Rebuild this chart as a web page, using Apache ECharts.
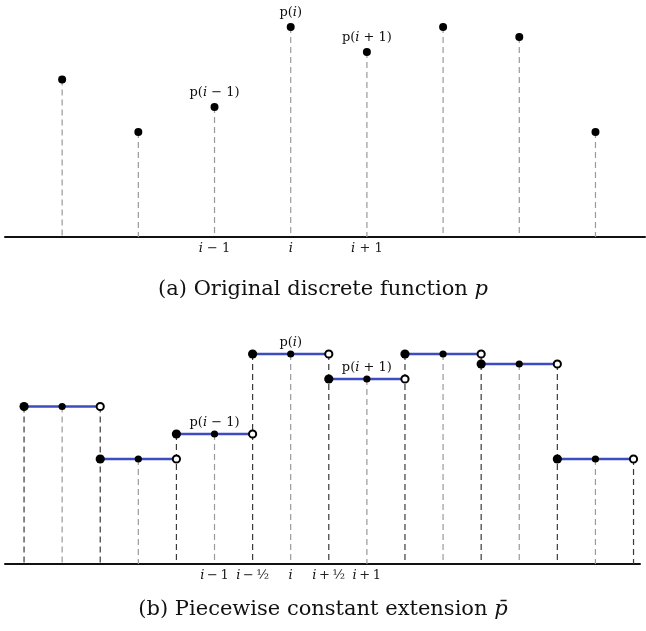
<!DOCTYPE html>
<html lang="en">
<head>
<meta charset="UTF-8">
<title>discrete / piecewise constant</title>
<style>
  html, body { margin: 0; padding: 0; background: #fff; }
  #main { width: 646px; height: 631px; }
</style>
</head>
<body>
<div id="main"></div>
<script src="https://cdn.jsdelivr.net/npm/echarts@6/dist/echarts.min.js"></script>
<script>
// sample positions 0..7 and their values p(k)
var samples = [0, 1, 2, 3, 4, 5, 6, 7];
var values = [3.15, 2.1, 2.6, 4.2, 3.7, 4.2, 4.0, 2.1];
// annotation above some samples
var notes = ['', '', 'p(i − 1)', 'p(i)', 'p(i + 1)', '', '', ''];
// tick labels
var topTicks = [2, 3, 4];
var topTickText = ['i − 1', 'i', 'i + 1'];
var botTicks = [2, 2.5, 3, 3.5, 4];
var botTickText = ['i\u2009−\u20091', 'i\u2009−\u2009½', 'i', 'i\u2009+\u2009½', 'i\u2009+\u20091'];

var serif = '"DejaVu Serif", "Liberation Serif", serif';

function noteRich(s) {
  // p upright, i italic
  return s.replace(/i/g, '{it|i}');
}
var richStyle = {
  it: { fontFamily: serif, fontStyle: 'italic', fontSize: 13, color: '#111' }
};

function tickFormatter(ticks, texts) {
  return function (v) {
    for (var j = 0; j < ticks.length; j++) {
      if (Math.abs(ticks[j] - v) < 1e-6) return texts[j].replace(/i/g, '{it|i}');
    }
    return '';
  };
}

var topData = samples.map(function (k, j) { return [k, values[j], notes[j]]; });
var stepData = samples.map(function (k, j) {
  return [k, values[j], j > 0 ? values[j - 1] : values[j]];
});

var chart = echarts.init(document.getElementById('main'));

var xBase = {
  type: 'value',
  min: -0.75,
  max: 7.65,
  splitLine: { show: false },
  axisLine: { onZero: true, lineStyle: { color: '#111', width: 2 } },
  axisTick: { show: false }
};
var yBase = {
  type: 'value',
  min: 0,
  max: 4.6,
  show: false
};
var captionStyle = {
  fontFamily: serif, fontWeight: 'normal', fontSize: 21, color: '#111',
  rich: { it: { fontFamily: serif, fontStyle: 'italic', fontSize: 21, color: '#111' } }
};

var option = {
  animation: false,
  title: [
    {
      text: '(a) Original discrete function {it|p}',
      left: 'center',
      top: 274,
      textStyle: captionStyle
    },
    {
      text: '(b) Piecewise constant extension {it|p̄}',
      left: 'center',
      top: 594,
      textStyle: captionStyle
    }
  ],
  grid: [
    { left: 5, right: 1, top: 7, height: 230 },
    { left: 5, right: 6, top: 334, height: 230 }
  ],
  xAxis: [
    Object.assign({}, xBase, {
      gridIndex: 0,
      axisLabel: {
        customValues: topTicks,
        formatter: tickFormatter(topTicks, topTickText),
        fontFamily: serif, fontSize: 13, color: '#222', margin: 5,
        rich: richStyle
      }
    }),
    Object.assign({}, xBase, {
      gridIndex: 1,
      max: 7.585,
      axisLabel: {
        customValues: botTicks,
        formatter: tickFormatter(botTicks, botTickText),
        fontFamily: serif, fontSize: 13, color: '#222', margin: 5,
        rich: richStyle
      }
    })
  ],
  yAxis: [
    Object.assign({ gridIndex: 0 }, yBase),
    Object.assign({ gridIndex: 1 }, yBase)
  ],
  series: [
    // (a) dashed drop lines
    {
      type: 'custom',
      xAxisIndex: 0, yAxisIndex: 0,
      data: topData,
      z: 1,
      renderItem: function (params, api) {
        var p = api.coord([api.value(0), api.value(1)]);
        var b = api.coord([api.value(0), 0]);
        return {
          type: 'line',
          shape: { x1: p[0], y1: p[1], x2: b[0], y2: b[1] },
          style: { stroke: '#9a9a9a', lineWidth: 1.2, lineDash: [6, 4] }
        };
      }
    },
    // (a) samples
    {
      type: 'scatter',
      xAxisIndex: 0, yAxisIndex: 0,
      data: topData,
      symbolSize: 8,
      itemStyle: { color: '#000', opacity: 1 },
      z: 3,
      label: {
        show: true,
        position: 'top',
        distance: 4,
        formatter: function (p) { return noteRich(p.data[2]); },
        fontFamily: serif, fontSize: 13, color: '#111',
        rich: richStyle
      }
    },
    // (b) dashed verticals
    {
      type: 'custom',
      xAxisIndex: 1, yAxisIndex: 1,
      data: stepData,
      z: 1,
      renderItem: function (params, api) {
        var k = api.value(0), v = api.value(1), prev = api.value(2);
        var top = Math.max(v, prev);
        var lt = api.coord([k - 0.5, top]), lb = api.coord([k - 0.5, 0]);
        var ct = api.coord([k, v]), cb = api.coord([k, 0]);
        var kids = [
          { type: 'line', shape: { x1: lt[0], y1: lt[1], x2: lb[0], y2: lb[1] },
            style: { stroke: '#3a3a3a', lineWidth: 1.2, lineDash: [6, 4] } },
          { type: 'line', shape: { x1: ct[0], y1: ct[1], x2: cb[0], y2: cb[1] },
            style: { stroke: '#9a9a9a', lineWidth: 1.2, lineDash: [6, 4] } }
        ];
        if (params.dataIndex === samples.length - 1) {
          var rt = api.coord([k + 0.5, v]), rb = api.coord([k + 0.5, 0]);
          kids.push({ type: 'line', shape: { x1: rt[0], y1: rt[1], x2: rb[0], y2: rb[1] },
            style: { stroke: '#3a3a3a', lineWidth: 1.2, lineDash: [6, 4] } });
        }
        return { type: 'group', children: kids };
      }
    },
    // (b) constant pieces with end markers
    {
      type: 'custom',
      xAxisIndex: 1, yAxisIndex: 1,
      data: stepData,
      z: 3,
      renderItem: function (params, api) {
        var k = api.value(0), v = api.value(1);
        var l = api.coord([k - 0.5, v]);
        var c = api.coord([k, v]);
        var r = api.coord([k + 0.5, v]);
        return {
          type: 'group',
          children: [
            { type: 'line', shape: { x1: l[0], y1: l[1], x2: r[0], y2: r[1] },
              style: { stroke: '#3c4cc0', lineWidth: 2.4 } },
            { type: 'circle', shape: { cx: l[0], cy: l[1], r: 4.6 }, style: { fill: '#000' } },
            { type: 'circle', shape: { cx: c[0], cy: c[1], r: 3.6 }, style: { fill: '#000' } },
            { type: 'circle', shape: { cx: r[0], cy: r[1], r: 3.6 },
              style: { fill: '#fff', stroke: '#000', lineWidth: 2 } }
          ]
        };
      }
    },
    // (b) annotations
    {
      type: 'scatter',
      xAxisIndex: 1, yAxisIndex: 1,
      data: topData,
      symbolSize: 0,
      itemStyle: { opacity: 1 },
      z: 4,
      label: {
        show: true,
        position: 'top',
        distance: 5,
        formatter: function (p) { return noteRich(p.data[2]); },
        fontFamily: serif, fontSize: 13, color: '#111',
        rich: richStyle
      }
    }
  ]
};

chart.setOption(option);
</script>
</body>
</html>
